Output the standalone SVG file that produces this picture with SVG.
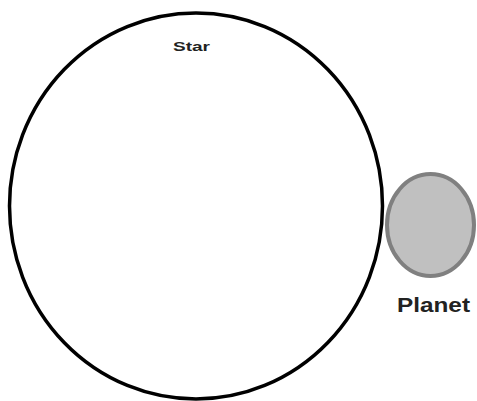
<svg xmlns="http://www.w3.org/2000/svg" width="477" height="401" viewBox="0 0 477 401">
<style>
.lbl{font-family:"Liberation Sans",Arial,sans-serif;font-weight:bold;fill:#222}
</style>
<rect width="477" height="401" fill="#fff"/>
<g id="star">
<ellipse cx="196" cy="206" rx="186.5" ry="193" fill="#fff" stroke="#000" stroke-width="3.5"/>
<text class="lbl" x="173" y="51" font-size="12" textLength="37" lengthAdjust="spacingAndGlyphs">Star</text>
</g>
<g id="planet">
<ellipse cx="430.5" cy="225" rx="43.5" ry="51" fill="#c0c0c0" stroke="#808080" stroke-width="4"/>
<text class="lbl" x="397" y="312" font-size="21" textLength="73" lengthAdjust="spacingAndGlyphs">Planet</text>
</g>
<g id="connectors"/>
</svg>
